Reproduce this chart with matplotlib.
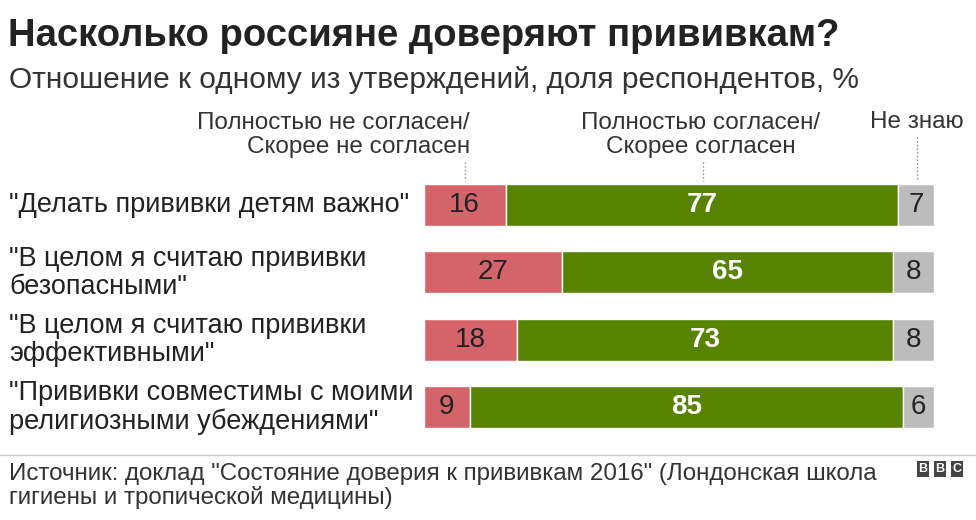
import matplotlib
matplotlib.use('Agg')
import matplotlib.pyplot as plt

plt.rcParams['font.family'] = 'Liberation Sans'

statements = ['"Делать прививки детям важно"',
              '"В целом я считаю прививки\nбезопасными"',
              '"В целом я считаю прививки\nэффективными"',
              '"Прививки совместимы с моими\nрелигиозными убеждениями"']
disagree = [16, 27, 18, 9]
agree = [77, 65, 73, 85]
dont_know = [7, 8, 8, 6]

RED, GREEN, GREY = '#d5646a', '#588300', '#bcbcbc'

fig = plt.figure(figsize=(9.76, 5.2), dpi=100)
W, H = 976, 520

def fx(px): return px / W
def fy(py): return 1 - py / H

fig.text(fx(8), fy(36), 'Насколько россияне доверяют прививкам?', fontsize=27.5,
         fontweight='bold', va='center', color='#222222')
fig.text(fx(9), fy(80), 'Отношение к одному из утверждений, доля респондентов, %',
         fontsize=21.5, va='center', color='#333333')

ax = fig.add_axes([fx(424), fy(428), fx(934) - fx(424), (428 - 184) / H])
ax.set_xlim(0, 100)
ax.set_ylim(3.31, -0.31)
ax.axis('off')

for i in range(len(statements)):
    tot = disagree[i] + agree[i] + dont_know[i]
    d, a, n = [v * 100 / tot for v in (disagree[i], agree[i], dont_know[i])]
    ax.barh(i, d, height=0.62, color=RED, edgecolor='white', linewidth=1)
    ax.barh(i, a, left=d, height=0.62, color=GREEN, edgecolor='white', linewidth=1)
    ax.barh(i, n, left=d + a, height=0.62, color=GREY, edgecolor='white', linewidth=1)
    ax.text(d / 2, i, str(disagree[i]), ha='center', va='center', fontsize=20, color='#222222')
    ax.text(d + a / 2, i, str(agree[i]), ha='center', va='center', fontsize=20,
            fontweight='bold', color='white')
    ax.text(d + a + n / 2, i, str(dont_know[i]), ha='center', va='center', fontsize=20,
            color='#222222')
    fig.text(fx(9), fy(205 + i * 67.5), statements[i], ha='left', va='center',
             fontsize=19.5, color='#222222', linespacing=1.1)

# column headers
fig.text(fx(470), fy(135), 'Полностью не согласен/\nСкорее не согласен', ha='right',
         va='center', fontsize=17.5, color='#333333', linespacing=1.1)
fig.text(fx(701), fy(135), 'Полностью согласен/\nСкорее согласен', ha='center',
         va='center', fontsize=17.5, color='#333333', linespacing=1.1)
fig.text(fx(917), fy(122), 'Не знаю', ha='center', va='center', fontsize=17.5,
         color='#333333')
for x, y0 in [(465, 162), (703, 162), (917, 137)]:
    fig.add_artist(plt.Line2D([fx(x), fx(x)], [fy(y0), fy(181)], color='#888888',
                              linestyle=':', linewidth=1))

fig.add_artist(plt.Line2D([fx(0), fx(976)], [fy(455), fy(455)], color='#cccccc', linewidth=1))
fig.text(fx(9), fy(486), 'Источник: доклад "Состояние доверия к прививкам 2016" (Лондонская школа\n'
         'гигиены и тропической медицины)', fontsize=17.4, va='center', color='#333333',
         linespacing=1.05)
for k, ch in enumerate('BBC'):
    fig.text(fx(923 + k * 17), fy(469), ch, fontsize=9, fontweight='bold', color='white',
             ha='center', va='center',
             bbox=dict(boxstyle='square,pad=0.15', fc='#444444', ec='none'))

fig.savefig('out.png', dpi=100)
